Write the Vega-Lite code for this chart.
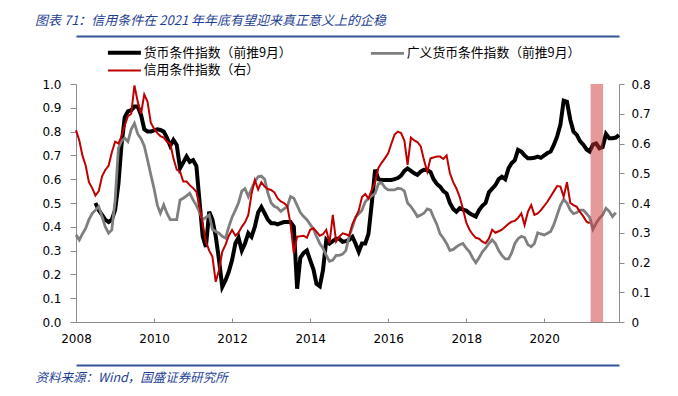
{
  "$schema": "https://vega.github.io/schema/vega-lite/v6.json",
  "width": 543,
  "height": 238,
  "autosize": {"type": "none"},
  "padding": {"left": 76, "top": 84, "right": 59, "bottom": 74},
  "background": "white",
  "title": {
    "text": "图表 71：信用条件在 2021 年年底有望迎来真正意义上的企稳",
    "anchor": "start",
    "frame": "group",
    "dx": -41,
    "offset": 8,
    "font": "Noto Sans CJK SC",
    "fontSize": 13,
    "fontStyle": "italic",
    "fontWeight": "normal",
    "color": "#1F3F94"
  },
  "datasets": {
    "money": [
      {"d":"2008-07","v":0.50},{"d":"2008-08","v":0.47},{"d":"2008-09","v":0.45},{"d":"2008-10","v":0.43},{"d":"2008-11","v":0.42},{"d":"2008-12","v":0.43},
      {"d":"2009-01","v":0.47},{"d":"2009-02","v":0.58},{"d":"2009-03","v":0.74},{"d":"2009-04","v":0.86},{"d":"2009-05","v":0.885},{"d":"2009-06","v":0.89},{"d":"2009-07","v":0.905},{"d":"2009-08","v":0.905},{"d":"2009-09","v":0.87},{"d":"2009-10","v":0.81},{"d":"2009-11","v":0.80},{"d":"2009-12","v":0.80},
      {"d":"2010-01","v":0.805},{"d":"2010-02","v":0.81},{"d":"2010-03","v":0.807},{"d":"2010-04","v":0.80},{"d":"2010-05","v":0.775},{"d":"2010-06","v":0.74},{"d":"2010-07","v":0.765},{"d":"2010-08","v":0.744},{"d":"2010-09","v":0.646},{"d":"2010-10","v":0.67},{"d":"2010-11","v":0.695},{"d":"2010-12","v":0.673},
      {"d":"2011-01","v":0.68},{"d":"2011-02","v":0.655},{"d":"2011-03","v":0.513},{"d":"2011-04","v":0.36},{"d":"2011-05","v":0.316},{"d":"2011-06","v":0.463},{"d":"2011-07","v":0.43},{"d":"2011-08","v":0.36},{"d":"2011-09","v":0.26},{"d":"2011-10","v":0.148},{"d":"2011-11","v":0.176},{"d":"2011-12","v":0.211},
      {"d":"2012-01","v":0.26},{"d":"2012-02","v":0.33},{"d":"2012-03","v":0.355},{"d":"2012-04","v":0.30},{"d":"2012-05","v":0.33},{"d":"2012-06","v":0.373},{"d":"2012-07","v":0.358},{"d":"2012-08","v":0.40},{"d":"2012-09","v":0.46},{"d":"2012-10","v":0.483},{"d":"2012-11","v":0.457},{"d":"2012-12","v":0.43},
      {"d":"2013-01","v":0.415},{"d":"2013-02","v":0.415},{"d":"2013-03","v":0.41},{"d":"2013-04","v":0.415},{"d":"2013-05","v":0.42},{"d":"2013-06","v":0.42},{"d":"2013-07","v":0.42},{"d":"2013-08","v":0.40},{"d":"2013-09","v":0.14},{"d":"2013-10","v":0.27},{"d":"2013-11","v":0.29},{"d":"2013-12","v":0.30},
      {"d":"2014-01","v":0.26},{"d":"2014-02","v":0.22},{"d":"2014-03","v":0.16},{"d":"2014-04","v":0.15},{"d":"2014-05","v":0.218},{"d":"2014-06","v":0.345},{"d":"2014-07","v":0.33},{"d":"2014-08","v":0.34},{"d":"2014-09","v":0.35},{"d":"2014-10","v":0.35},{"d":"2014-11","v":0.337},{"d":"2014-12","v":0.34},
      {"d":"2015-01","v":0.345},{"d":"2015-02","v":0.358},{"d":"2015-03","v":0.33},{"d":"2015-04","v":0.295},{"d":"2015-05","v":0.33},{"d":"2015-06","v":0.33},{"d":"2015-07","v":0.37},{"d":"2015-08","v":0.50},{"d":"2015-09","v":0.64},{"d":"2015-10","v":0.60},{"d":"2015-11","v":0.597},{"d":"2015-12","v":0.597},
      {"d":"2016-01","v":0.597},{"d":"2016-02","v":0.597},{"d":"2016-03","v":0.60},{"d":"2016-04","v":0.605},{"d":"2016-05","v":0.615},{"d":"2016-06","v":0.635},{"d":"2016-07","v":0.645},{"d":"2016-08","v":0.635},{"d":"2016-09","v":0.625},{"d":"2016-10","v":0.618},{"d":"2016-11","v":0.632},{"d":"2016-12","v":0.64},
      {"d":"2017-01","v":0.639},{"d":"2017-02","v":0.63},{"d":"2017-03","v":0.60},{"d":"2017-04","v":0.58},{"d":"2017-05","v":0.569},{"d":"2017-06","v":0.55},{"d":"2017-07","v":0.54},{"d":"2017-08","v":0.50},{"d":"2017-09","v":0.475},{"d":"2017-10","v":0.463},{"d":"2017-11","v":0.478},{"d":"2017-12","v":0.472},
      {"d":"2018-01","v":0.468},{"d":"2018-02","v":0.457},{"d":"2018-03","v":0.45},{"d":"2018-04","v":0.443},{"d":"2018-05","v":0.47},{"d":"2018-06","v":0.488},{"d":"2018-07","v":0.50},{"d":"2018-08","v":0.545},{"d":"2018-09","v":0.56},{"d":"2018-10","v":0.575},{"d":"2018-11","v":0.60},{"d":"2018-12","v":0.61},
      {"d":"2019-01","v":0.60},{"d":"2019-02","v":0.646},{"d":"2019-03","v":0.667},{"d":"2019-04","v":0.68},{"d":"2019-05","v":0.723},{"d":"2019-06","v":0.716},{"d":"2019-07","v":0.70},{"d":"2019-08","v":0.688},{"d":"2019-09","v":0.688},{"d":"2019-10","v":0.69},{"d":"2019-11","v":0.695},{"d":"2019-12","v":0.69},
      {"d":"2020-01","v":0.70},{"d":"2020-02","v":0.71},{"d":"2020-03","v":0.716},{"d":"2020-04","v":0.745},{"d":"2020-05","v":0.78},{"d":"2020-06","v":0.83},{"d":"2020-07","v":0.93},{"d":"2020-08","v":0.925},{"d":"2020-09","v":0.85},{"d":"2020-10","v":0.80},{"d":"2020-11","v":0.786},{"d":"2020-12","v":0.76},
      {"d":"2021-01","v":0.745},{"d":"2021-02","v":0.725},{"d":"2021-03","v":0.716},{"d":"2021-04","v":0.745},{"d":"2021-05","v":0.75},{"d":"2021-06","v":0.73},{"d":"2021-07","v":0.735},{"d":"2021-08","v":0.79},{"d":"2021-09","v":0.772},{"d":"2021-10","v":0.772},{"d":"2021-11","v":0.775},{"d":"2021-12","v":0.786}
    ],
    "broad": [
      {"d":"2008-01","v":0.366},{"d":"2008-02","v":0.345},{"d":"2008-03","v":0.37},{"d":"2008-04","v":0.394},{"d":"2008-05","v":0.43},{"d":"2008-06","v":0.457},{"d":"2008-07","v":0.47},{"d":"2008-08","v":0.485},{"d":"2008-09","v":0.443},{"d":"2008-10","v":0.40},{"d":"2008-11","v":0.373},{"d":"2008-12","v":0.387},
      {"d":"2009-01","v":0.51},{"d":"2009-02","v":0.73},{"d":"2009-03","v":0.76},{"d":"2009-04","v":0.772},{"d":"2009-05","v":0.758},{"d":"2009-06","v":0.81},{"d":"2009-07","v":0.835},{"d":"2009-08","v":0.79},{"d":"2009-09","v":0.77},{"d":"2009-10","v":0.74},{"d":"2009-11","v":0.68},{"d":"2009-12","v":0.62},
      {"d":"2010-01","v":0.56},{"d":"2010-02","v":0.49},{"d":"2010-03","v":0.457},{"d":"2010-04","v":0.492},{"d":"2010-05","v":0.457},{"d":"2010-06","v":0.43},{"d":"2010-07","v":0.43},{"d":"2010-08","v":0.43},{"d":"2010-09","v":0.513},{"d":"2010-10","v":0.52},{"d":"2010-11","v":0.53},{"d":"2010-12","v":0.541},
      {"d":"2011-01","v":0.513},{"d":"2011-02","v":0.49},{"d":"2011-03","v":0.463},{"d":"2011-04","v":0.43},{"d":"2011-05","v":0.44},{"d":"2011-06","v":0.45},{"d":"2011-07","v":0.39},{"d":"2011-08","v":0.38},{"d":"2011-09","v":0.373},{"d":"2011-10","v":0.36},{"d":"2011-11","v":0.352},{"d":"2011-12","v":0.40},
      {"d":"2012-01","v":0.44},{"d":"2012-02","v":0.47},{"d":"2012-03","v":0.50},{"d":"2012-04","v":0.55},{"d":"2012-05","v":0.56},{"d":"2012-06","v":0.527},{"d":"2012-07","v":0.56},{"d":"2012-08","v":0.59},{"d":"2012-09","v":0.61},{"d":"2012-10","v":0.613},{"d":"2012-11","v":0.60},{"d":"2012-12","v":0.541},
      {"d":"2013-01","v":0.50},{"d":"2013-02","v":0.485},{"d":"2013-03","v":0.48},{"d":"2013-04","v":0.465},{"d":"2013-05","v":0.475},{"d":"2013-06","v":0.485},{"d":"2013-07","v":0.527},{"d":"2013-08","v":0.52},{"d":"2013-09","v":0.49},{"d":"2013-10","v":0.46},{"d":"2013-11","v":0.443},{"d":"2013-12","v":0.43},
      {"d":"2014-01","v":0.41},{"d":"2014-02","v":0.39},{"d":"2014-03","v":0.36},{"d":"2014-04","v":0.33},{"d":"2014-05","v":0.31},{"d":"2014-06","v":0.28},{"d":"2014-07","v":0.255},{"d":"2014-08","v":0.26},{"d":"2014-09","v":0.28},{"d":"2014-10","v":0.28},{"d":"2014-11","v":0.285},{"d":"2014-12","v":0.30},
      {"d":"2015-01","v":0.36},{"d":"2015-02","v":0.40},{"d":"2015-03","v":0.44},{"d":"2015-04","v":0.455},{"d":"2015-05","v":0.47},{"d":"2015-06","v":0.505},{"d":"2015-07","v":0.52},{"d":"2015-08","v":0.53},{"d":"2015-09","v":0.54},{"d":"2015-10","v":0.58},{"d":"2015-11","v":0.585},{"d":"2015-12","v":0.565},
      {"d":"2016-01","v":0.555},{"d":"2016-02","v":0.555},{"d":"2016-03","v":0.555},{"d":"2016-04","v":0.562},{"d":"2016-05","v":0.56},{"d":"2016-06","v":0.55},{"d":"2016-07","v":0.50},{"d":"2016-08","v":0.485},{"d":"2016-09","v":0.465},{"d":"2016-10","v":0.443},{"d":"2016-11","v":0.45},{"d":"2016-12","v":0.457},
      {"d":"2017-01","v":0.475},{"d":"2017-02","v":0.47},{"d":"2017-03","v":0.44},{"d":"2017-04","v":0.41},{"d":"2017-05","v":0.37},{"d":"2017-06","v":0.352},{"d":"2017-07","v":0.33},{"d":"2017-08","v":0.30},{"d":"2017-09","v":0.305},{"d":"2017-10","v":0.316},{"d":"2017-11","v":0.325},{"d":"2017-12","v":0.33},
      {"d":"2018-01","v":0.31},{"d":"2018-02","v":0.295},{"d":"2018-03","v":0.27},{"d":"2018-04","v":0.249},{"d":"2018-05","v":0.27},{"d":"2018-06","v":0.295},{"d":"2018-07","v":0.31},{"d":"2018-08","v":0.33},{"d":"2018-09","v":0.345},{"d":"2018-10","v":0.33},{"d":"2018-11","v":0.30},{"d":"2018-12","v":0.28},
      {"d":"2019-01","v":0.265},{"d":"2019-02","v":0.265},{"d":"2019-03","v":0.289},{"d":"2019-04","v":0.33},{"d":"2019-05","v":0.35},{"d":"2019-06","v":0.36},{"d":"2019-07","v":0.355},{"d":"2019-08","v":0.325},{"d":"2019-09","v":0.316},{"d":"2019-10","v":0.33},{"d":"2019-11","v":0.375},{"d":"2019-12","v":0.37},
      {"d":"2020-01","v":0.366},{"d":"2020-02","v":0.373},{"d":"2020-03","v":0.38},{"d":"2020-04","v":0.41},{"d":"2020-05","v":0.45},{"d":"2020-06","v":0.49},{"d":"2020-07","v":0.515},{"d":"2020-08","v":0.50},{"d":"2020-09","v":0.47},{"d":"2020-10","v":0.455},{"d":"2020-11","v":0.46},{"d":"2020-12","v":0.47},
      {"d":"2021-01","v":0.47},{"d":"2021-02","v":0.455},{"d":"2021-03","v":0.44},{"d":"2021-04","v":0.39},{"d":"2021-05","v":0.415},{"d":"2021-06","v":0.436},{"d":"2021-07","v":0.45},{"d":"2021-08","v":0.478},{"d":"2021-09","v":0.465},{"d":"2021-10","v":0.443},{"d":"2021-11","v":0.46}
    ],
    "credit": [
      {"d":"2008-01","v":0.645},{"d":"2008-02","v":0.61},{"d":"2008-03","v":0.56},{"d":"2008-04","v":0.525},{"d":"2008-05","v":0.47},{"d":"2008-06","v":0.45},{"d":"2008-07","v":0.425},{"d":"2008-08","v":0.44},{"d":"2008-09","v":0.49},{"d":"2008-10","v":0.511},{"d":"2008-11","v":0.525},{"d":"2008-12","v":0.57},
      {"d":"2009-01","v":0.606},{"d":"2009-02","v":0.60},{"d":"2009-03","v":0.623},{"d":"2009-04","v":0.66},{"d":"2009-05","v":0.692},{"d":"2009-06","v":0.70},{"d":"2009-07","v":0.795},{"d":"2009-08","v":0.74},{"d":"2009-09","v":0.70},{"d":"2009-10","v":0.765},{"d":"2009-11","v":0.74},{"d":"2009-12","v":0.67},
      {"d":"2010-01","v":0.65},{"d":"2010-02","v":0.635},{"d":"2010-03","v":0.625},{"d":"2010-04","v":0.62},{"d":"2010-05","v":0.606},{"d":"2010-06","v":0.60},{"d":"2010-07","v":0.55},{"d":"2010-08","v":0.512},{"d":"2010-09","v":0.505},{"d":"2010-10","v":0.472},{"d":"2010-11","v":0.472},{"d":"2010-12","v":0.46},
      {"d":"2011-01","v":0.45},{"d":"2011-02","v":0.438},{"d":"2011-03","v":0.39},{"d":"2011-04","v":0.33},{"d":"2011-05","v":0.27},{"d":"2011-06","v":0.24},{"d":"2011-07","v":0.22},{"d":"2011-08","v":0.135},{"d":"2011-09","v":0.175},{"d":"2011-10","v":0.236},{"d":"2011-11","v":0.26},{"d":"2011-12","v":0.29},
      {"d":"2012-01","v":0.309},{"d":"2012-02","v":0.29},{"d":"2012-03","v":0.30},{"d":"2012-04","v":0.32},{"d":"2012-05","v":0.335},{"d":"2012-06","v":0.36},{"d":"2012-07","v":0.43},{"d":"2012-08","v":0.477},{"d":"2012-09","v":0.445},{"d":"2012-10","v":0.47},{"d":"2012-11","v":0.455},{"d":"2012-12","v":0.447},
      {"d":"2013-01","v":0.444},{"d":"2013-02","v":0.435},{"d":"2013-03","v":0.416},{"d":"2013-04","v":0.405},{"d":"2013-05","v":0.40},{"d":"2013-06","v":0.39},{"d":"2013-07","v":0.33},{"d":"2013-08","v":0.231},{"d":"2013-09","v":0.287},{"d":"2013-10","v":0.288},{"d":"2013-11","v":0.29},{"d":"2013-12","v":0.283},
      {"d":"2014-01","v":0.31},{"d":"2014-02","v":0.315},{"d":"2014-03","v":0.304},{"d":"2014-04","v":0.29},{"d":"2014-05","v":0.295},{"d":"2014-06","v":0.31},{"d":"2014-07","v":0.265},{"d":"2014-08","v":0.36},{"d":"2014-09","v":0.27},{"d":"2014-10","v":0.287},{"d":"2014-11","v":0.298},{"d":"2014-12","v":0.295},
      {"d":"2015-01","v":0.29},{"d":"2015-02","v":0.33},{"d":"2015-03","v":0.35},{"d":"2015-04","v":0.375},{"d":"2015-05","v":0.42},{"d":"2015-06","v":0.43},{"d":"2015-07","v":0.415},{"d":"2015-08","v":0.445},{"d":"2015-09","v":0.47},{"d":"2015-10","v":0.517},{"d":"2015-11","v":0.535},{"d":"2015-12","v":0.55},
      {"d":"2016-01","v":0.567},{"d":"2016-02","v":0.60},{"d":"2016-03","v":0.63},{"d":"2016-04","v":0.64},{"d":"2016-05","v":0.635},{"d":"2016-06","v":0.61},{"d":"2016-07","v":0.528},{"d":"2016-08","v":0.62},{"d":"2016-09","v":0.61},{"d":"2016-10","v":0.605},{"d":"2016-11","v":0.59},{"d":"2016-12","v":0.545},
      {"d":"2017-01","v":0.505},{"d":"2017-02","v":0.55},{"d":"2017-03","v":0.553},{"d":"2017-04","v":0.556},{"d":"2017-05","v":0.556},{"d":"2017-06","v":0.548},{"d":"2017-07","v":0.56},{"d":"2017-08","v":0.50},{"d":"2017-09","v":0.47},{"d":"2017-10","v":0.449},{"d":"2017-11","v":0.42},{"d":"2017-12","v":0.38},
      {"d":"2018-01","v":0.335},{"d":"2018-02","v":0.31},{"d":"2018-03","v":0.295},{"d":"2018-04","v":0.283},{"d":"2018-05","v":0.28},{"d":"2018-06","v":0.27},{"d":"2018-07","v":0.265},{"d":"2018-08","v":0.28},{"d":"2018-09","v":0.31},{"d":"2018-10","v":0.30},{"d":"2018-11","v":0.305},{"d":"2018-12","v":0.31},
      {"d":"2019-01","v":0.32},{"d":"2019-02","v":0.33},{"d":"2019-03","v":0.337},{"d":"2019-04","v":0.34},{"d":"2019-05","v":0.35},{"d":"2019-06","v":0.365},{"d":"2019-07","v":0.326},{"d":"2019-08","v":0.37},{"d":"2019-09","v":0.393},{"d":"2019-10","v":0.36},{"d":"2019-11","v":0.365},{"d":"2019-12","v":0.376},
      {"d":"2020-01","v":0.39},{"d":"2020-02","v":0.405},{"d":"2020-03","v":0.422},{"d":"2020-04","v":0.44},{"d":"2020-05","v":0.457},{"d":"2020-06","v":0.455},{"d":"2020-07","v":0.421},{"d":"2020-08","v":0.47},{"d":"2020-09","v":0.40},{"d":"2020-10","v":0.393},{"d":"2020-11","v":0.387},{"d":"2020-12","v":0.37},
      {"d":"2021-01","v":0.355},{"d":"2021-02","v":0.337},{"d":"2021-03","v":0.332}
    ],
    "shade": [{"start": "2021-03-10", "end": "2021-07-05"}]
  },
  "layer": [
    {
      "encoding": {
        "x": {
          "field": "d",
          "type": "temporal",
          "scale": {"domain": [{"year": 2008, "month": 1, "date": 1, "utc": true}, {"year": 2021, "month": 12, "date": 1, "utc": true}]},
          "axis": {
            "format": "%Y",
            "tickCount": {"interval": "year", "step": 2},
            "tickSize": -4,
            "labelPadding": 15,
            "labelFlush": false,
            "labelBound": false,
            "labelOverlap": false,
            "title": "资料来源：Wind，国盛证券研究所",
            "titleX": -41,
            "titleY": 55,
            "titleAlign": "left",
            "titleBaseline": "middle",
            "titleFont": "Noto Sans CJK SC",
            "titleFontSize": 12.5,
            "titleFontStyle": "italic",
            "titleFontWeight": "normal",
            "titleColor": "#1F3F94"
          }
        },
        "y": {
          "field": "v",
          "type": "quantitative",
          "scale": {"domain": [0, 1]},
          "axis": {
            "orient": "left",
            "values": [0, 0.1, 0.2, 0.3, 0.4, 0.5, 0.6, 0.7, 0.8, 0.9, 1.0],
            "format": ".1f",
            "tickSize": 6,
            "labelPadding": 9,
            "title": null
          }
        }
      },
      "layer": [
        {
          "data": {"name": "money"},
          "mark": {"type": "line", "strokeWidth": 4},
          "encoding": {
            "color": {
              "datum": "货币条件指数（前推9月）",
              "scale": {
                "domain": ["货币条件指数（前推9月）", "广义货币条件指数（前推9月）", "信用条件指数（右）"],
                "range": ["#000000", "#7F7F7F", "#C00000"]
              },
              "legend": {
                "orient": "none",
                "direction": "horizontal",
                "legendX": 42,
                "legendY": -38,
                "values": ["货币条件指数（前推9月）", "广义货币条件指数（前推9月）", "信用条件指数（右）"],
                "columns": 2,
                "columnPadding": 73,
                "rowPadding": 3,
                "symbolType": "stroke",
                "symbolSize": 1089,
                "labelFont": "Noto Sans CJK SC",
                "labelFontSize": 12.8,
                "labelColor": "#000000",
                "labelOffset": 13,
                "labelLimit": 300,
                "title": null,
                "encode": {
                  "symbols": {
                    "update": {
                      "strokeWidth": {"signal": "datum.value === '货币条件指数（前推9月）' ? 4 : datum.value === '广义货币条件指数（前推9月）' ? 2.8 : 2"}
                    }
                  }
                }
              }
            }
          }
        },
        {
          "data": {"name": "broad"},
          "mark": {"type": "line", "strokeWidth": 2.8},
          "encoding": {"color": {"datum": "广义货币条件指数（前推9月）"}}
        }
      ]
    },
    {
      "data": {"name": "credit"},
      "mark": {"type": "line", "strokeWidth": 2},
      "encoding": {
        "x": {
          "field": "d",
          "type": "temporal",
          "axis": {"orient": "top", "offset": 48, "domainColor": "#2F5597", "domainWidth": 2, "labels": false, "ticks": false, "title": null}
        },
        "y": {
          "field": "v",
          "type": "quantitative",
          "scale": {"domain": [0, 0.8]},
          "axis": {
            "orient": "right",
            "values": [0, 0.1, 0.2, 0.3, 0.4, 0.5, 0.6, 0.7, 0.8],
            "format": ".1~f",
            "tickSize": 5,
            "labelPadding": 7,
            "title": null
          }
        },
        "color": {"datum": "信用条件指数（右）"}
      }
    },
    {
      "data": {"name": "shade"},
      "mark": {"type": "rect", "color": "#CC3333", "opacity": 0.5},
      "encoding": {
        "x": {
          "field": "start",
          "type": "temporal",
          "axis": {"orient": "bottom", "offset": 43, "domainColor": "#2F5597", "domainWidth": 2, "labels": false, "ticks": false, "title": null}
        },
        "x2": {"field": "end"}
      }
    }
  ],
  "resolve": {"scale": {"y": "independent"}, "axis": {"x": "independent"}},
  "config": {
    "view": {"stroke": null},
    "axis": {
      "grid": false,
      "labelFont": "DejaVu Sans",
      "labelFontSize": 12,
      "labelColor": "#000000",
      "domainColor": "#8C8C8C",
      "tickColor": "#8C8C8C"
    }
  }
}
